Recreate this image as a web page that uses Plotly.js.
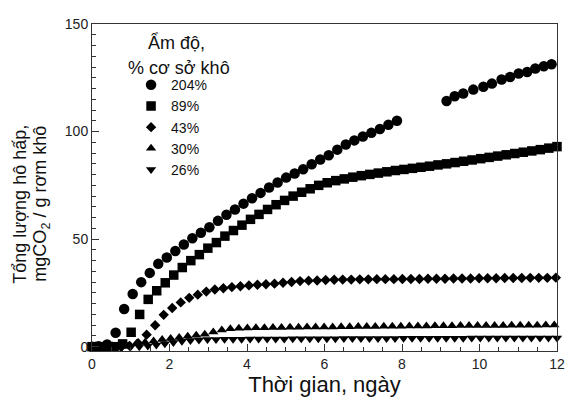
<!DOCTYPE html>
<html>
<head>
<meta charset="utf-8">
<script src="https://cdn.plot.ly/plotly-3.0.1.min.js"></script>
<style>html,body{margin:0;padding:0;background:#fff;}#chart{width:566px;height:399px;}</style>
</head>
<body>
<div id="chart"></div>
<script>
// Series names (moisture content, % dry basis)
const seriesNames = ["204%", "89%", "43%", "30%", "26%"];
const legendTitleLines = ["Ẩm độ,", "% cơ sở khô"];
const yTitleLines = ["Tổng lượng hô hấp,", "mgCO<sub>2</sub> / g rơm khô"];

// 204 % moisture (circles)
const x204 = [0.0,0.17,0.39,0.61,0.83,1.05,1.27,1.49,1.71,1.93,2.15,2.37,2.59,2.81,3.03,3.25,3.47,3.69,3.91,4.13,4.35,4.57,4.79,5.01,5.23,5.45,5.67,5.89,6.11,6.33,6.55,6.77,6.99,7.21,7.43,7.65,7.87,9.15,9.36,9.58,9.84,10.10,10.32,10.57,10.79,11.01,11.23,11.44,11.66,11.86];
const y204 = [0,0.2,1.0,6.5,17.5,24.5,30,34.3,38.5,41.5,44.5,47.5,50.4,53,55.5,58.5,61.3,63.8,66.5,69,71.5,74,76.3,78.6,80.5,82.5,84.8,87,89,91.6,94,95.9,97.7,99.4,101.2,103.2,105,114.2,116.4,117.7,119.5,120.8,122.3,124.2,125.4,127.0,127.7,129.3,130.4,131.3];

// 89 % moisture (squares)
const x89 = [0.0,0.13,0.35,0.57,0.79,1.01,1.23,1.45,1.67,1.89,2.11,2.33,2.55,2.77,2.99,3.21,3.43,3.65,3.87,4.09,4.31,4.53,4.75,4.97,5.19,5.41,5.63,5.85,6.07,6.29,6.51,6.73,6.95,7.17,7.39,7.61,7.83,8.05,8.27,8.49,8.71,8.93,9.15,9.37,9.59,9.81,10.03,10.25,10.47,10.69,10.91,11.13,11.35,11.57,11.79,12.0];
const y89 = [0,0,0,0,1.3,6.7,15,22,26,29.7,33.3,36.8,40,42.8,45.8,48.4,51.4,54,56.5,59.2,61.5,63.8,66,68,70,71.8,73.4,75,76.2,77.2,78,78.8,79.5,80.1,80.7,81.3,81.9,82.4,82.9,83.4,83.9,84.5,85,85.6,86.2,86.8,87.4,88,88.6,89.2,89.8,90.4,91,91.6,92.3,93];

// 43 % moisture (diamonds)
const x43 = [0.09,0.31,0.53,0.75,0.97,1.19,1.41,1.63,1.85,2.07,2.29,2.51,2.73,2.95,3.17,3.39,3.61,3.83,4.05,4.27,4.49,4.71,4.93,5.15,5.37,5.59,5.81,6.03,6.25,6.47,6.69,6.91,7.13,7.35,7.57,7.79,8.01,8.23,8.45,8.67,8.89,9.11,9.33,9.55,9.77,9.99,10.21,10.43,10.65,10.87,11.09,11.31,11.53,11.75,11.97];
const y43 = [0,0,0,0,0.4,1.6,5.6,10,14.8,18,20.6,22.7,24.2,25.6,26.6,27.2,27.7,28.1,28.5,28.8,29.0,29.3,29.7,30.1,30.5,30.7,30.8,31.0,31.1,31.2,31.2,31.3,31.3,31.4,31.4,31.4,31.5,31.5,31.5,31.6,31.6,31.6,31.7,31.7,31.7,31.8,31.8,31.8,31.9,31.9,31.9,32.0,32.0,32.0,32.1];

// 30 % moisture (triangles up)
const x30 = [0.05,0.27,0.49,0.71,0.93,1.15,1.37,1.59,1.81,2.03,2.25,2.47,2.69,2.91,3.13,3.35,3.57,3.79,4.01,4.23,4.45,4.67,4.89,5.11,5.33,5.55,5.77,5.99,6.21,6.43,6.65,6.87,7.09,7.31,7.53,7.75,7.97,8.19,8.41,8.63,8.85,9.07,9.29,9.51,9.73,9.95,10.17,10.39,10.61,10.83,11.05,11.27,11.49,11.71,11.93];
const y30 = [0,0,0,0,0.3,1.5,2.1,2.7,3.3,3.8,4.3,4.8,5.3,5.8,6.8,7.8,8.3,8.6,8.7,8.8,8.8,8.9,8.9,9.0,9.0,9.1,9.1,9.2,9.2,9.3,9.3,9.4,9.4,9.4,9.5,9.5,9.5,9.6,9.6,9.6,9.7,9.7,9.7,9.8,9.8,9.8,9.9,9.9,9.9,10.0,10.0,10.0,10.0,10.1,10.1];

// 26 % moisture (triangles down)
const x26 = [0.12,0.34,0.56,0.78,1.00,1.22,1.44,1.66,1.88,2.10,2.32,2.54,2.76,2.98,3.20,3.42,3.64,3.86,4.08,4.30,4.52,4.74,4.96,5.18,5.40,5.62,5.84,6.06,6.28,6.50,6.72,6.94,7.16,7.38,7.60,7.82,8.04,8.26,8.48,8.70,8.92,9.14,9.36,9.58,9.80,10.02,10.24,10.46,10.68,10.90,11.12,11.34,11.56,11.78,12.00];
const y26 = [0,0,0,0,0,0,0.3,0.8,1.4,2.0,2.5,2.9,3.1,3.3,3.4,3.5,3.5,3.5,3.6,3.6,3.6,3.6,3.6,3.7,3.7,3.7,3.7,3.7,3.7,3.8,3.8,3.8,3.8,3.8,3.8,3.8,3.9,3.9,3.9,3.9,3.9,3.9,3.9,3.9,4.0,4.0,4.0,4.0,4.0,4.0,4.0,4.0,4.0,4.0,4.0];

// Axis ticks
const xTicks = [0, 2, 4, 6, 8, 10, 12];
const yTicks = [0, 50, 100, 150];

const FONT = "Liberation Sans, Arial, sans-serif";
const xs = [x204, x89, x43, x30, x26];
const ys = [y204, y89, y43, y30, y26];
const symbols = ["circle", "square", "diamond", "triangle-up", "triangle-down"];
const sizes = [10.5, 9.5, 8, 9, 9];

const traces = seriesNames.map((n, i) => ({
  type: "scatter",
  mode: "markers",
  name: n,
  x: xs[i],
  y: ys[i],
  cliponaxis: false,
  marker: {symbol: symbols[i], size: sizes[i], color: "#000", line: {width: 0}}
}));

const axisCommon = {
  showline: true, linecolor: "#333", linewidth: 1, mirror: true,
  showgrid: false, zeroline: false,
  ticks: "inside", ticklen: 7, tickcolor: "#333", tickwidth: 1,
  tickfont: {family: FONT, size: 14, color: "#222"}
};

const txt = (text, x, y, size, angle) => ({
  text: text, xref: "paper", yref: "paper", x: x, y: y,
  xanchor: "center", yanchor: "middle", textangle: angle || 0, showarrow: false,
  font: {family: FONT, size: size, color: "#111"}
});

const layout = {
  width: 566, height: 399,
  margin: {l: 92, r: 9, t: 24, b: 48},
  paper_bgcolor: "#fff", plot_bgcolor: "#fff",
  font: {family: FONT, color: "#111"},
  showlegend: true,
  legend: {
    x: 0.084, y: 0.862, xanchor: "left", yanchor: "top",
    bgcolor: "rgba(0,0,0,0)",
    font: {family: FONT, size: 14, color: "#111"},
    traceorder: "normal"
  },
  xaxis: Object.assign({}, axisCommon, {
    range: [0, 12], tickvals: xTicks,
    minor: {dtick: 0.5, ticks: "inside", ticklen: 4, tickcolor: "#333"},
    title: {text: "Thời gian, ngày", font: {family: FONT, size: 22, color: "#111"}, standoff: 5}
  }),
  yaxis: Object.assign({}, axisCommon, {
    range: [-2, 150], tickvals: yTicks,
    minor: {dtick: 5, ticks: "inside", ticklen: 4, tickcolor: "#333"}
  }),
  annotations: [
    txt(yTitleLines[0], -0.155, 0.45, 18, -90),
    txt(yTitleLines[1], -0.108, 0.45, 18, -90),
    txt(legendTitleLines[0], 0.181, 0.944, 18),
    txt(legendTitleLines[1], 0.187, 0.865, 18)
  ]
};

Plotly.newPlot("chart", traces, layout, {staticPlot: true, displayModeBar: false});
</script>
</body>
</html>
